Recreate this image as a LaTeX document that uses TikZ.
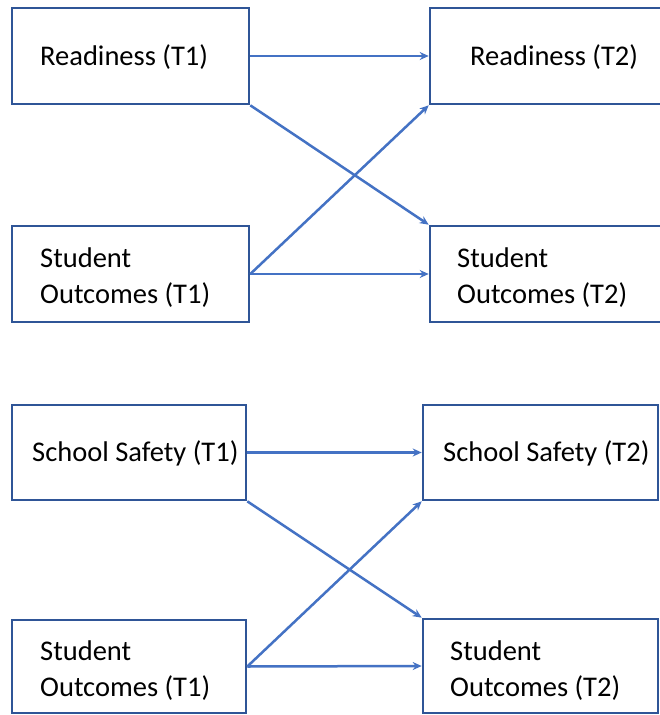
\documentclass[tikz,border=0pt]{standalone}
\usepackage{fontspec}
\setmainfont{Carlito}
\usetikzlibrary{arrows.meta,calc}
\definecolor{boxblue}{HTML}{2F5597}
\definecolor{arrblue}{HTML}{4472C4}
\begin{document}
\begin{tikzpicture}[x=1pt,y=-1pt,
  box/.style={draw=boxblue,line width=2.6pt,rectangle,inner sep=0pt,fill=white},
  lbl/.style={anchor=west,inner sep=0pt,align=left,font=\fontsize{28.5}{36}\selectfont},
  conn/.style={draw=arrblue,line width=2.5pt,-{Stealth[length=9pt,width=8pt]}}]
\useasboundingbox (0,0) rectangle (660,715);
\fill[white] (0,0) rectangle (660,715);
% top panel
\node[box,minimum width=237pt,minimum height=96pt] (A) at (130.5,56) {};
\node[box,minimum width=246pt,minimum height=96pt] (B) at (553,56) {};
\node[box,minimum width=237pt,minimum height=96pt] (C) at (130.5,274) {};
\node[box,minimum width=246pt,minimum height=96pt] (D) at (553,274) {};
\node[lbl] (At) at (40,57) {Readiness (T1)};
\node[lbl] (Bt) at (470,57) {Readiness (T2)};
\node[lbl] (Ct) at (40,278) {Student\\Outcomes (T1)};
\node[lbl] (Dt) at (457,278) {Student\\Outcomes (T2)};
\draw[conn] (A.east) -- (B.west);
\draw[conn] (A.south east) -- (D.north west);
\draw[conn] (C.east) -- (B.south west);
\draw[conn] (C.east) -- (D.west);
% bottom panel
\node[box,minimum width=234pt,minimum height=95pt] (E) at (129,452.5) {};
\node[box,minimum width=235pt,minimum height=95pt] (F) at (540.5,452.5) {};
\node[box,minimum width=234pt,minimum height=93pt] (G) at (129,666.5) {};
\node[box,minimum width=235pt,minimum height=94pt] (H) at (540.5,666) {};
\node[lbl] (Et) at (32,453) {School Safety (T1)};
\node[lbl] (Ft) at (443,453) {School Safety (T2)};
\node[lbl] (Gt) at (40,671) {Student\\Outcomes (T1)};
\node[lbl] (Ht) at (450,671) {Student\\Outcomes (T2)};
\draw[conn] (E.east) -- (F.west);
\draw[conn] (E.south east) -- (H.north west);
\draw[conn] (G.east) -- (F.south west);
\draw[conn] (G.east) -- (H.west);
\end{tikzpicture}
\end{document}
